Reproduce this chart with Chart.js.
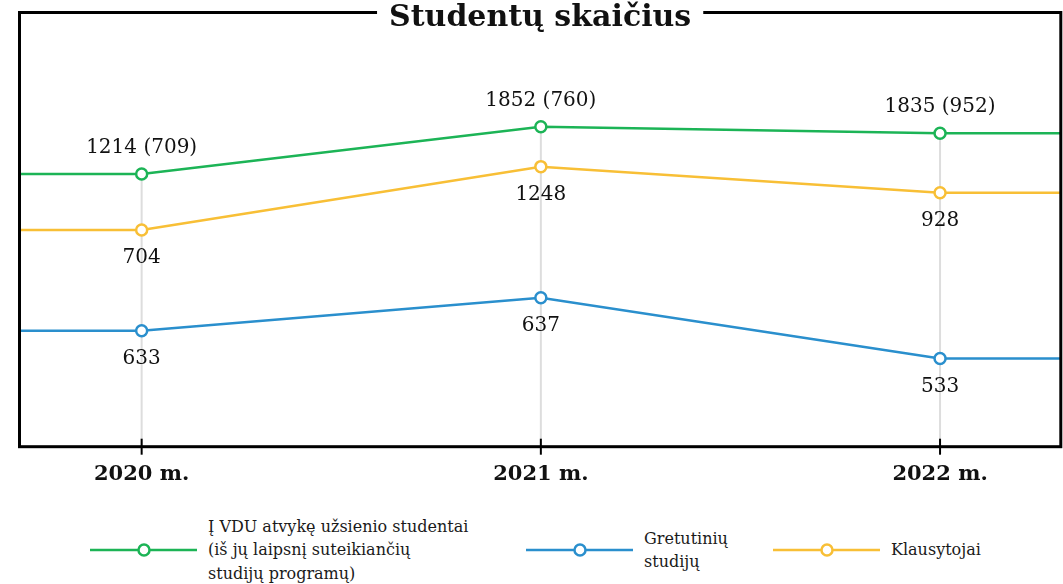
<!DOCTYPE html>
<html lang="lt">
<head>
<meta charset="utf-8">
<title>Studentų skaičius</title>
<script src="https://cdn.jsdelivr.net/npm/chart.js@4.4.1/dist/chart.umd.min.js"></script>
<style>
    html, body { margin: 0; padding: 0; background: #fff; }
    #wrap { position: relative; width: 1063px; height: 584px; overflow: hidden; }
    #studentChart { position: absolute; left: 0; top: 0; }
    .legend-item {
        position: absolute;
        top: 520px;
        height: 60px;
        display: flex;
        align-items: center;
        font-family: "DejaVu Serif", serif;
        font-size: 16px;
        line-height: 23.5px;
        color: #1a1a1a;
    }
    .legend-item svg { flex: none; margin-right: 11px; }
    .legend-item:nth-child(1) { left: 90px; }
    .legend-item:nth-child(2) { left: 526px; }
    .legend-item:nth-child(3) { left: 773px; }
</style>
</head>
<body>
<div id="wrap">
    <canvas id="studentChart" width="1063" height="500"></canvas>
    <div id="legend"></div>
</div>
<script>
const years = [2020, 2021, 2022];
const yearLabels = ['2020 m.', '2021 m.', '2022 m.'];

// Į VDU atvykę užsienio studentai (in brackets: degree programme students)
const foreignTotal = [1214, 1852, 1835];
const foreignDegree = [709, 760, 952];
// Gretutinių studijų
const exchangeStudents = [633, 637, 533];
// Klausytojai
const listeners = [704, 1248, 928];

// The original is not drawn to scale, so each point's height is read off
// the picture on a hidden 0-100 axis
const foreignLevel = [62.8, 73.7, 72.2];
const exchangeLevel = [26.7, 34.3, 20.3];
const listenersLevel = [49.9, 64.5, 58.5];

const seriesNames = [
    ['Į VDU atvykę užsienio studentai', '(iš jų laipsnį suteikiančių', 'studijų programų)'],
    ['Gretutinių', 'studijų'],
    ['Klausytojai']
];
const seriesColors = ['#1cb456', '#2a8fcd', '#f8bf36'];

const serif = '"DejaVu Serif", serif';

function makeDataset(i, levels, valueLabels, labelAbove) {
    return {
        label: seriesNames[i].join(' '),
        data: years.map((yr, k) => ({ x: yr, y: levels[k] })),
        borderColor: seriesColors[i],
        backgroundColor: '#fff',
        borderWidth: 2.5,
        pointRadius: 5.5,
        pointBorderWidth: 2.5,
        pointBackgroundColor: '#fff',
        pointBorderColor: seriesColors[i],
        tension: 0,
        valueLabels: valueLabels,
        labelAbove: labelAbove
    };
}

// frame, title, drop lines, run-out of the lines and the value labels
const framePlugin = {
    id: 'frame',
    beforeDatasetsDraw(chart) {
        const { ctx, chartArea: a } = chart;
        const xScale = chart.scales.x;
        ctx.save();

        // grey line from the highest point of each year down to the axis
        years.forEach((yr, i) => {
            let top = a.bottom;
            chart.data.datasets.forEach((ds, d) => {
                top = Math.min(top, chart.getDatasetMeta(d).data[i].y);
            });
            const x = xScale.getPixelForValue(yr);
            ctx.strokeStyle = '#dddddd';
            ctx.lineWidth = 2;
            ctx.beginPath();
            ctx.moveTo(x, top);
            ctx.lineTo(x, a.bottom);
            ctx.stroke();
        });

        // lines run flat out to the frame on both sides
        chart.data.datasets.forEach((ds, d) => {
            const pts = chart.getDatasetMeta(d).data;
            const first = pts[0];
            const last = pts[pts.length - 1];
            ctx.strokeStyle = ds.borderColor;
            ctx.lineWidth = ds.borderWidth;
            ctx.beginPath();
            ctx.moveTo(a.left, first.y);
            ctx.lineTo(first.x, first.y);
            ctx.moveTo(last.x, last.y);
            ctx.lineTo(a.right, last.y);
            ctx.stroke();
        });
        ctx.restore();
    },
    afterDatasetsDraw(chart) {
        const { ctx, chartArea: a } = chart;
        const xScale = chart.scales.x;
        ctx.save();

        // frame
        ctx.strokeStyle = '#000';
        ctx.lineWidth = 3;
        ctx.strokeRect(a.left, a.top, a.right - a.left, a.bottom - a.top);

        // tick marks across the bottom edge
        ctx.lineWidth = 2;
        years.forEach(yr => {
            const x = xScale.getPixelForValue(yr);
            ctx.beginPath();
            ctx.moveTo(x, a.bottom - 8);
            ctx.lineTo(x, a.bottom + 8);
            ctx.stroke();
        });

        // title sitting on the top edge
        const cx = (a.left + a.right) / 2;
        ctx.font = 'bold 30px ' + serif;
        const w = ctx.measureText('Studentų skaičius').width;
        ctx.fillStyle = '#fff';
        ctx.fillRect(cx - w / 2 - 12, 0, w + 24, 20);
        ctx.fillStyle = '#111';
        ctx.textAlign = 'center';
        ctx.textBaseline = 'alphabetic';
        ctx.fillText('Studentų skaičius', cx, a.top + 13);

        // value labels
        ctx.font = '20px ' + serif;
        chart.data.datasets.forEach((ds, d) => {
            chart.getDatasetMeta(d).data.forEach((pt, i) => {
                const y = ds.labelAbove ? pt.y - 21 : pt.y + 33;
                ctx.fillText(ds.valueLabels[i], pt.x, y);
            });
        });
        ctx.restore();
    }
};

function buildLegend() {
    const box = document.getElementById('legend');
    seriesNames.forEach((lines, i) => {
        const item = document.createElement('div');
        item.className = 'legend-item';
        const c = seriesColors[i];
        item.innerHTML =
            '<svg width="107" height="16">' +
            '<line x1="0" y1="8" x2="107" y2="8" stroke="' + c + '" stroke-width="2.5"/>' +
            '<circle cx="54" cy="8" r="5.5" fill="#fff" stroke="' + c + '" stroke-width="2.5"/>' +
            '</svg><div>' + lines.join('<br>') + '</div>';
        box.appendChild(item);
    });
}

function initChart() {
    const ctx = document.getElementById('studentChart').getContext('2d');

    new Chart(ctx, {
        type: 'line',
        data: {
            datasets: [
                makeDataset(0, foreignLevel, foreignTotal.map((v, i) => `${v} (${foreignDegree[i]})`), true),
                makeDataset(1, exchangeLevel, exchangeStudents.map(String), false),
                makeDataset(2, listenersLevel, listeners.map(String), false)
            ]
        },
        options: {
            responsive: false,
            animation: false,
            layout: {
                autoPadding: false,
                padding: { left: 19.5, right: 2.2, top: 12.5, bottom: 0 }
            },
            plugins: {
                legend: { display: false },
                tooltip: { enabled: false }
            },
            scales: {
                x: {
                    type: 'linear',
                    min: 2019.694,
                    max: 2022.3025,
                    grid: { display: false, drawTicks: false },
                    border: { display: false },
                    afterBuildTicks: scale => {
                        scale.ticks = years.map(v => ({ value: v }));
                    },
                    afterFit: scale => {
                        scale.height = 53.3;
                    },
                    ticks: {
                        padding: 15,
                        maxRotation: 0,
                        autoSkip: false,
                        color: '#111',
                        font: { family: serif, size: 21, weight: 'bold' },
                        callback: value => yearLabels[years.indexOf(value)]
                    }
                },
                y: {
                    display: false,
                    min: 0,
                    max: 100
                }
            }
        },
        plugins: [framePlugin]
    });
}

buildLegend();
initChart();
</script>
</body>
</html>
